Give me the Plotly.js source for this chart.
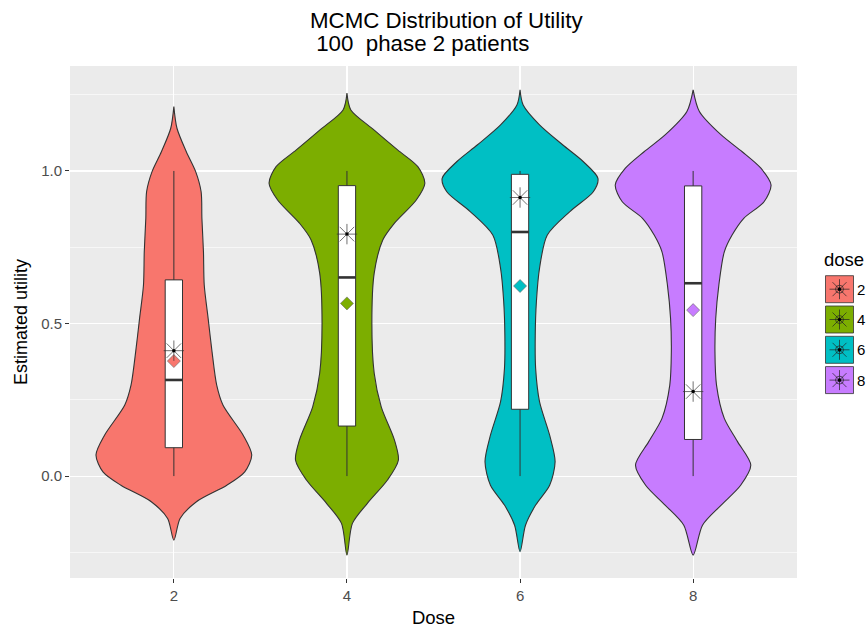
<!DOCTYPE html>
<html><head><meta charset="utf-8">
<script src="https://cdn.plot.ly/plotly-3.0.1.min.js"></script>
<style>html,body{margin:0;padding:0;background:#fff}#chart{width:867px;height:630px}</style>
</head><body><div id="chart"></div>
<script>
// ---------------- data ----------------
const doses = [2, 4, 6, 8];
const doseLabels = ['2', '4', '6', '8'];
const doseColors = ['#F8766D', '#7CAE00', '#00BFC4', '#C77CFF'];

// violin outlines: utility grid and relative density (1 = widest point)
const violinY2 = [-0.210,-0.139,-0.084,-0.030,0.014,0.069,0.134,0.233,0.298,0.408,0.517,0.626,0.735,0.845,0.932,0.998,1.063,1.140,1.211];
const violinD2 = [0,0.08,0.29,0.68,0.91,1.00,0.89,0.63,0.55,0.49,0.44,0.39,0.38,0.36,0.35,0.28,0.16,0.04,0];
const violinY4 = [-0.259,-0.155,-0.090,-0.013,0.052,0.118,0.227,0.337,0.501,0.665,0.774,0.829,0.905,0.960,1.014,1.069,1.134,1.200,1.255];
const violinD4 = [0,0.07,0.26,0.52,0.66,0.61,0.44,0.35,0.32,0.35,0.46,0.61,0.89,1.00,0.91,0.65,0.35,0.05,0];
const violinY6 = [-0.248,-0.161,-0.095,-0.030,0.047,0.134,0.244,0.353,0.462,0.572,0.681,0.790,0.867,0.932,0.976,1.031,1.085,1.151,1.216,1.266];
const violinD6 = [0,0.07,0.20,0.38,0.45,0.38,0.25,0.20,0.195,0.21,0.25,0.35,0.64,0.94,1.00,0.81,0.55,0.25,0.04,0];
const violinY8 = [-0.259,-0.161,-0.095,-0.030,0.036,0.113,0.189,0.298,0.408,0.517,0.626,0.735,0.790,0.845,0.899,0.954,1.009,1.063,1.118,1.195,1.266];
const violinD8 = [0,0.12,0.36,0.61,0.74,0.57,0.40,0.30,0.28,0.29,0.33,0.40,0.50,0.65,0.91,1.00,0.87,0.63,0.36,0.08,0];

// box plot statistics
const whiskerLow  = [0, 0, 0, 0];
const boxQ1       = [0.093, 0.164, 0.219, 0.120];
const boxMedian   = [0.315, 0.651, 0.800, 0.632];
const boxQ3       = [0.643, 0.952, 0.989, 0.951];
const whiskerHigh = [1, 1, 1, 1];

// point summaries
const meanUtility = [0.377, 0.566, 0.623, 0.544];   // diamonds
const starUtility = [0.411, 0.793, 0.913, 0.277];   // asterisks

// axis ticks
const yTickVals = [0, 0.5, 1.0];
const yTickText = ['0.0', '0.5', '1.0'];
const yMinorVals = [-0.25, 0.25, 0.75, 1.25];

// ---------------- styling / layout ----------------
const FONT = 'Liberation Sans, Arial, sans-serif';
const VIOLIN_HALF = 0.9;   // half-width of widest violin point, x units
const BOX_W = 0.2;         // box width, x units
const M = {l: 70, r: 70, t: 66, b: 52};
const W = 867, H = 630;
const PW = W - M.l - M.r, PH = H - M.t - M.b;
const px2x = px => (px - M.l) / PW;
const px2y = py => (H - M.b - py) / PH;
const X_RANGE = [0.8, 9.2];
const Y_RANGE = [-0.334, 1.344];

const violinYs = [violinY2, violinY4, violinY6, violinY8];
const violinDs = [violinD2, violinD4, violinD6, violinD8];

const traces = [];
// violins on the base subplot
doses.forEach((d, i) => {
  const ys = violinYs[i], ds = violinDs[i];
  const xr = ds.map(v => d + VIOLIN_HALF * v);
  const xl = ds.map(v => d - VIOLIN_HALF * v).reverse();
  traces.push({
    type: 'scatter', mode: 'lines', xaxis: 'x', yaxis: 'y',
    x: xr.concat(xl), y: ys.concat(ys.slice().reverse()),
    fill: 'toself', fillcolor: doseColors[i],
    line: {color: '#333333', width: 1.1, shape: 'spline', smoothing: 0.8},
    hoverinfo: 'skip', showlegend: false
  });
});
// boxes and points on an overlaid subplot (drawn above the violins)
doses.forEach((d, i) => {
  traces.push({
    type: 'box', xaxis: 'x2', yaxis: 'y2', x: [d],
    q1: [boxQ1[i]], median: [boxMedian[i]], q3: [boxQ3[i]],
    lowerfence: [whiskerLow[i]], upperfence: [whiskerHigh[i]],
    width: BOX_W, whiskerwidth: 0,
    fillcolor: '#ffffff', line: {color: '#333333', width: 1},
    boxpoints: false, hoverinfo: 'skip', showlegend: false
  });
  traces.push({
    type: 'scatter', mode: 'lines', xaxis: 'x2', yaxis: 'y2',
    x: [d - BOX_W / 2, d + BOX_W / 2], y: [boxMedian[i], boxMedian[i]],
    line: {color: '#333333', width: 2.6}, hoverinfo: 'skip', showlegend: false
  });
});
traces.push({
  type: 'scatter', mode: 'markers', xaxis: 'x2', yaxis: 'y2', x: doses, y: meanUtility,
  marker: {symbol: 'diamond', size: 10, color: doseColors, line: {color: '#666666', width: 0.6}},
  hoverinfo: 'skip', showlegend: false
});
traces.push({
  type: 'scatter', mode: 'markers', xaxis: 'x2', yaxis: 'y2', x: doses, y: starUtility,
  marker: {symbol: 'asterisk-open', size: 17, color: '#333333', line: {color: '#444444', width: 0.7}},
  hoverinfo: 'skip', showlegend: false
});
traces.push({
  type: 'scatter', mode: 'markers', xaxis: 'x2', yaxis: 'y2', x: doses, y: starUtility,
  marker: {symbol: 'circle', size: 3.5, color: '#000000'},
  hoverinfo: 'skip', showlegend: false
});

// ---------------- manual legend (ggplot style) ----------------
const shapes = [];
const annotations = [];
const keyCX = 839.5, keyY0 = 289.2, keyStep = 30.3;
doses.forEach((d, i) => {
  const cy = keyY0 + i * keyStep;
  const base = {xref: 'paper', yref: 'paper', xsizemode: 'pixel', ysizemode: 'pixel',
                xanchor: px2x(keyCX), yanchor: px2y(cy)};
  shapes.push(Object.assign({}, base, {type: 'rect', x0: -14, x1: 14, y0: -13.5, y1: 13.5,
    fillcolor: doseColors[i], line: {color: '#333333', width: 0.8}}));
  const seg = (x0, y0, x1, y1) => shapes.push(Object.assign({}, base, {type: 'line', x0, y0, x1, y1,
    line: {color: '#222222', width: 0.7}}));
  seg(-10, 0, 10, 0); seg(0, -10, 0, 10); seg(-7, -7, 7, 7); seg(-7, 7, 7, -7);
  shapes.push(Object.assign({}, base, {type: 'circle', x0: -4, x1: 4, y0: -4, y1: 4,
    line: {color: '#222222', width: 0.7}}));
  shapes.push(Object.assign({}, base, {type: 'circle', x0: -1.6, x1: 1.6, y0: -1.6, y1: 1.6,
    fillcolor: '#000000', line: {color: '#000000', width: 0.5}}));
  annotations.push({xref: 'paper', yref: 'paper', x: px2x(855), y: px2y(cy),
    xanchor: 'left', yanchor: 'middle', showarrow: false, text: doseLabels[i],
    font: {family: FONT, size: 15, color: '#000000'}});
});
annotations.push({xref: 'paper', yref: 'paper', x: px2x(822), y: px2y(259),
  xanchor: 'left', yanchor: 'middle', showarrow: false, text: 'dose',
  font: {family: FONT, size: 18.5, color: '#000000'}});

// title (two left-aligned lines, as in the reference)
annotations.push({xref: 'paper', yref: 'paper', x: px2x(308), y: px2y(20.5),
  xanchor: 'left', yanchor: 'middle', showarrow: false, text: 'MCMC Distribution of Utility',
  font: {family: FONT, size: 22.3, color: '#000000'}});
annotations.push({xref: 'paper', yref: 'paper', x: px2x(308), y: px2y(43.5),
  xanchor: 'left', yanchor: 'middle', showarrow: false, text: '\u00a0100\u00a0\u00a0phase 2 patients',
  font: {family: FONT, size: 22.3, color: '#000000'}});

const axisCommon = {
  zeroline: false, showline: false, fixedrange: true,
  ticks: 'outside', ticklen: 4, tickwidth: 1, tickcolor: '#333333',
  tickfont: {family: FONT, size: 15, color: '#4d4d4d'},
  showgrid: true, gridcolor: '#ffffff', gridwidth: 1.1
};
const overlayAxis = {showgrid: false, zeroline: false, showline: false, showticklabels: false,
  ticks: '', fixedrange: true};

const layout = {
  width: W, height: H, margin: M,
  paper_bgcolor: '#ffffff', plot_bgcolor: '#EBEBEB',
  font: {family: FONT, color: '#000000'},
  showlegend: false, hovermode: false, boxmode: 'overlay',
  xaxis: Object.assign({}, axisCommon, {
    range: X_RANGE, tickmode: 'array', tickvals: doses, ticktext: doseLabels,
    title: {text: 'Dose', standoff: 8, font: {family: FONT, size: 18.5, color: '#000000'}}
  }),
  yaxis: Object.assign({}, axisCommon, {
    range: Y_RANGE, tickmode: 'array', tickvals: yTickVals, ticktext: yTickText,
    minor: {tickmode: 'array', tickvals: yMinorVals, showgrid: true, gridcolor: '#ffffff', gridwidth: 0.6, ticks: ''},
    title: {text: 'Estimated utility', standoff: 8, font: {family: FONT, size: 18, color: '#000000'}}
  }),
  xaxis2: Object.assign({}, overlayAxis, {overlaying: 'x', range: X_RANGE}),
  yaxis2: Object.assign({}, overlayAxis, {overlaying: 'y', range: Y_RANGE}),
  shapes: shapes,
  annotations: annotations
};

Plotly.newPlot('chart', traces, layout, {displayModeBar: false, staticPlot: true});
</script>
</body></html>
